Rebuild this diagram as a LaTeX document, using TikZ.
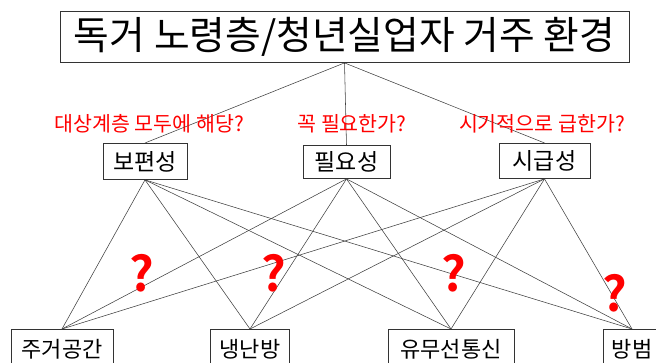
\documentclass[tikz,border=0pt]{standalone}
\usepackage{fontspec}
\setmainfont{Noto Sans CJK KR}
\newfontfamily\qfont{Noto Sans CJK KR Bold}
\begin{document}
\begin{tikzpicture}[x=1pt,y=-1pt,
  box/.style={draw=black!80, line width=0.9pt, inner sep=0pt, anchor=north, fill=white},
  ln/.style={draw=black!75, line width=0.55pt},
  ask/.style={text=red, font=\fontsize{20.6}{24}\selectfont, inner sep=0pt},
  qmark/.style={text=red, font=\qfont\fontsize{48}{52}\selectfont, inner sep=0pt},
  midtxt/.style={font=\fontsize{23}{27}\selectfont},
  bottxt/.style={font=\fontsize{22}{26}\selectfont, minimum height=40}
]
\useasboundingbox (0,0) rectangle (656,363);
\clip (0,0) rectangle (656,363);
% top
\node[box, minimum width=569, minimum height=51, font=\fontsize{38.8}{42}\selectfont] (top) at (344.5,11) {\raisebox{-1.5pt}{독거 노령층/청년실업자 거주 환경}};
% middle
\node[box, midtxt, minimum width=84, minimum height=36] (b1) at (145,143) {보편성};
\node[box, midtxt, minimum width=87, minimum height=33] (b2) at (346.5,145) {필요성};
\node[box, midtxt, minimum width=91, minimum height=35] (b3) at (544.5,143) {시급성};
% bottom
\node[box, bottxt, minimum width=102] (c1) at (62,329) {주거공간};
\node[box, bottxt, minimum width=79] (c2) at (250,329) {냉난방};
\node[box, bottxt, minimum width=126] (c3) at (451,329) {유무선통신};
\node[box, bottxt, minimum width=58] (c4) at (632,329) {방범};
% connectors
\foreach \m in {b1,b2,b3} {
  \draw[ln] (top.south) -- (\m.north);
  \foreach \c in {c1,c2,c3,c4} {
    \draw[ln] (\m.south) -- (\c.north);
  }
}
% red questions
\node[ask] (q1) at (149,124) {대상계층 모두에 해당?};
\node[ask] (q2) at (352,124) {꼭 필요한가?};
\node[ask] (q3) at (542,124) {시기적으로 급한가?};
% question marks
\node[qmark] (m1) at (142,273) {?};
\node[qmark] (m2) at (274,273) {?};
\node[qmark] (m3) at (454,273) {?};
\node[qmark] (m4) at (615,293) {?};
\end{tikzpicture}
\end{document}
